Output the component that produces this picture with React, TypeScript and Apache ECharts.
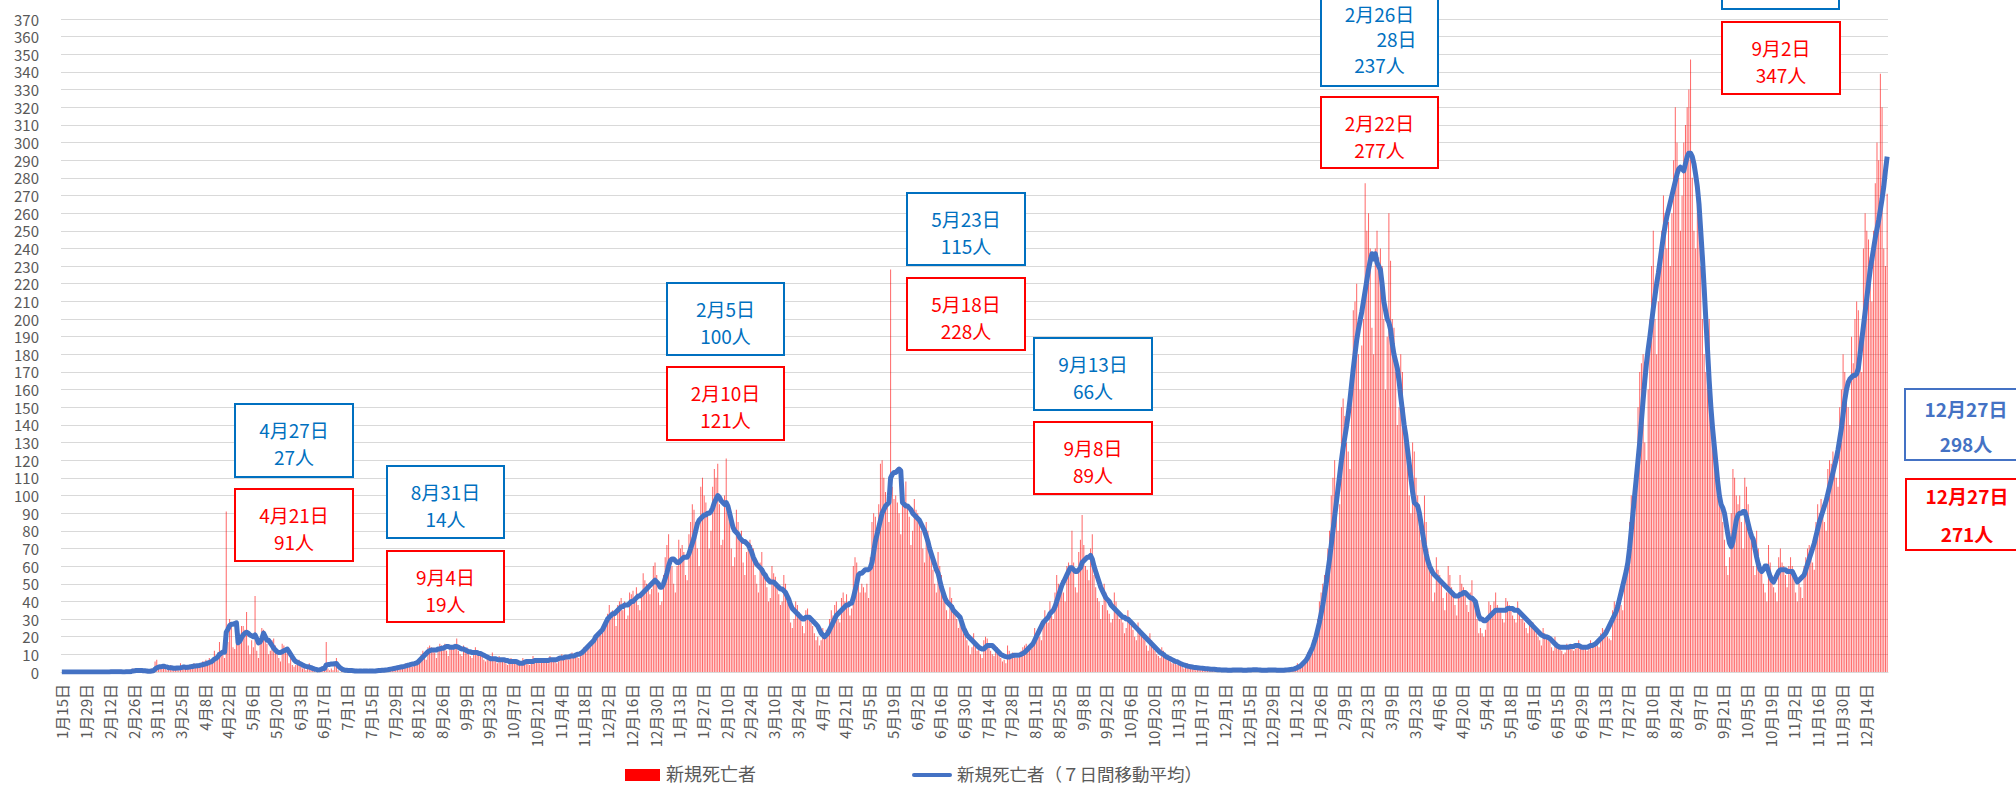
import React, { useEffect, useRef } from "react";
import * as echarts from "echarts";

// ---- categories: daily from 2020-01-15 to 2022-12-27 ----
const START_UTC = Date.UTC(2020, 0, 15);
const DAY_COUNT = 1078;
const categories: string[] = [];
for (let i = 0; i < DAY_COUNT; i++) {
  const d = new Date(START_UTC + i * 86400000);
  categories.push(`${d.getUTCMonth() + 1}月${d.getUTCDate()}日`);
}

// ---- daily new deaths ----
const deaths2020 = [
  0,0,0,0,0,0,0,0,0,0,0,0,0,0,0,0,0,
  0,0,0,0,0,0,0,0,0,0,0,0,1,0,0,0,0,0,0,0,0,1,0,0,1,2,1,1,0,
  1,0,1,0,1,0,0,2,1,6,7,3,2,2,3,2,1,3,4,2,1,2,3,1,5,3,3,2,3,2,4,
  3,5,4,4,3,5,6,6,7,5,8,6,7,12,9,11,17,12,10,8,91,17,30,26,14,13,20,26,22,26,
  26,24,34,15,10,18,14,43,12,8,19,25,24,22,16,10,12,18,19,15,10,8,6,16,15,13,11,5,8,4,3,
  4,6,7,3,2,3,1,2,5,2,1,1,0,1,2,3,1,3,17,2,1,2,1,4,8,1,0,1,0,1,
  1,1,0,1,0,1,1,0,0,1,1,0,0,1,0,0,1,1,1,0,1,2,1,1,1,2,2,3,2,3,3,
  3,2,2,4,5,4,3,4,3,4,6,7,6,10,12,9,7,14,15,14,13,11,8,12,16,15,14,16,12,9,13,
  15,13,16,19,12,10,9,15,13,14,10,9,8,11,14,12,10,11,9,7,6,8,9,9,11,8,7,5,9,8,
  8,6,5,4,7,8,7,6,5,4,4,6,8,6,7,5,4,5,9,7,7,6,5,6,8,7,7,5,9,8,6,
  6,5,6,9,10,8,9,8,7,9,11,10,9,10,8,10,12,14,13,15,14,14,17,19,18,20,22,21,24,25,
  26,33,38,30,35,32,26,38,40,42,35,40,30,32,45,44,46,42,48,38,35,45,56,52,50,48,44,47,60,62,55,
];
const deaths2021 = [
  45,38,40,55,65,72,78,65,60,50,45,60,75,70,72,68,55,52,78,85,95,92,85,70,60,105,110,100,96,90,70,
  80,105,115,110,118,95,72,75,100,121,90,85,70,60,65,92,85,78,80,62,55,68,70,75,72,70,55,50,
  45,62,68,58,55,48,40,42,60,56,54,50,44,38,40,55,50,45,40,28,25,30,40,38,34,30,26,22,35,36,32,
  28,26,22,18,20,15,18,25,20,24,22,30,35,32,38,40,30,28,42,45,40,44,38,32,36,60,65,62,50,45,
  50,48,45,50,42,65,85,90,88,80,95,118,120,110,102,96,85,228,105,98,100,96,90,78,102,95,108,94,88,72,80,
  98,92,90,85,80,70,62,85,80,72,65,58,50,45,68,60,55,48,40,35,30,48,42,38,35,30,25,28,30,22,
  20,18,15,10,14,22,17,12,14,10,8,18,20,19,15,12,10,9,12,14,10,8,6,7,5,15,12,10,11,9,8,
  8,10,12,14,15,16,12,14,13,18,25,22,24,20,18,26,35,30,28,40,32,30,45,55,50,48,52,45,40,60,62,
  58,80,62,48,45,68,75,89,72,60,58,52,70,78,55,48,42,40,30,38,50,45,35,33,28,30,45,40,33,30,
  30,28,22,25,35,30,26,24,20,18,28,25,22,20,18,15,12,22,18,15,12,10,9,8,14,12,9,8,7,6,5,
  5,7,4,4,6,3,2,4,5,3,2,4,2,1,3,2,3,2,1,2,1,2,2,1,2,1,1,1,2,1,
  1,2,1,0,1,2,1,1,2,1,1,0,1,1,2,1,1,2,1,2,1,1,0,1,1,1,2,1,2,1,0,
];
const deaths2022 = [
  0,1,1,2,1,1,2,2,2,1,2,3,5,4,4,4,5,8,11,10,14,18,15,22,30,40,45,50,55,48,70,
  80,100,110,120,100,80,95,150,155,145,130,125,115,160,205,210,220,180,160,185,200,277,250,260,240,195,180,240,
  250,235,240,230,200,160,190,260,233,200,195,170,140,150,180,170,150,140,120,100,90,130,125,110,100,90,75,80,100,85,70,
  60,55,40,45,65,58,55,50,42,35,45,60,55,48,44,38,32,42,55,50,48,45,38,34,45,52,40,38,30,22,
  25,22,20,24,30,40,38,35,40,45,38,36,34,30,28,42,40,38,35,32,30,28,40,35,30,30,28,25,22,30,28,
  28,24,22,20,18,15,25,22,20,18,17,14,12,20,17,15,14,12,10,11,16,15,16,14,12,13,14,18,15,13,
  14,13,12,15,18,16,15,17,15,14,22,25,24,22,20,19,18,35,40,38,40,42,38,35,55,60,70,85,100,95,90,
  110,150,170,175,180,130,120,160,200,230,250,200,180,210,230,250,270,260,240,255,230,260,290,320,300,280,250,270,300,310,320,
  330,347,280,250,240,280,270,230,200,180,170,190,200,160,140,120,110,100,110,95,85,75,60,55,65,90,115,110,100,95,
  100,85,70,110,105,95,80,75,60,55,80,70,60,58,50,45,40,72,62,55,48,45,40,65,70,62,60,55,48,60,65,
  60,55,45,40,50,48,42,60,65,70,72,68,62,58,85,95,90,98,92,85,80,115,120,118,125,120,110,105,150,160,
  180,170,165,150,140,190,175,200,210,205,190,170,240,260,250,245,235,210,250,277,300,290,339,320,240,230,271,
];

// ---- 7-day moving average ----
const avg2020 = [
  0,0,0,0,0,0,0,0,0,0,0,0,0,0,0,0,0,
  0,0,0,0,0,0,0,0,0,0,0,0,0.1,0.1,0.1,0.1,0.1,0.1,0.1,0,0,0.1,0.1,0.1,0.3,0.6,0.7,0.9,0.9,
  0.9,0.9,0.7,0.7,0.6,0.4,0.4,0.6,0.7,1.6,2.4,2.7,3,3.1,3.3,3,2.9,2.4,2.4,2.4,2.1,2.1,2.3,2.3,2.4,2.6,2.9,2.6,2.7,2.7,3,
  3.1,3.4,3.4,3.6,3.7,3.9,4.1,4.4,4.6,5,5.4,5.7,6.4,7.3,7.8,8.6,10,10.6,11.3,11.2,22.6,24.3,26.3,27,27.1,27.4,27.9,16.5,17.5,19.5,
  21,22,22.5,22,21,20.5,20,21,19,16.5,17,19,22,20,18,18,16.5,15,13.5,12.5,11.5,11,11,11.5,12,12.5,13,11.5,10,8.5,7,
  6,5.5,5,4.5,4,3.5,3.2,3,2.8,2.5,2,1.7,1.5,1.2,1.3,1.5,2,2,4,4.2,4.3,4.5,4.5,4.7,4.8,3.5,2.5,1.8,1.3,1,
  1,0.9,0.8,0.8,0.7,0.6,0.6,0.5,0.5,0.5,0.6,0.6,0.6,0.5,0.5,0.5,0.5,0.6,0.7,0.8,0.9,1,1,1.1,1.2,1.4,1.6,1.8,2,2.2,2.4,
  2.6,2.8,3,3.2,3.5,3.8,4,4.3,4.5,4.7,5,5.5,6.5,7.5,8.5,9.5,10.5,11.5,12,12.5,12.5,12.5,12.5,13,13,13.5,13.5,14,14.5,14.5,14,
  14,14,14.5,14.5,14,13.5,13,13,12.5,12,11.5,11.5,11,11,11,11,10.5,10.5,10,9.5,9,8.5,8,7.5,7.5,7.5,7.5,7,7,7,
  7,7,6.5,6.5,6,6,6,6,6,5.5,5,5,5,5.5,6,6,6,6,6,6.5,6.5,6.5,6.5,6.5,6.5,6.5,6.5,6.5,7,7,7,
  7,7,7.5,8,8,8,8.5,8.5,8.5,9,9,9,9.5,10,10,10.5,11,12,13,14,15,16,17,18,20,21,22,23,24,26,
  28,30,31,32,33,33,34,35,36,37,37,38,38,38,39,40,40,41,42,43,43,44,45,46,47,48,49,50,51,52,51,
];
const avg2021 = [
  50,48,48,50,53,56,60,63,64,64,63,62,62,63,64,65,65,65,67,70,73,76,80,84,86,87,88,89,89,90,90,
  91,93,96,98,100,99,97,96,95,96,94,90,86,82,80,79,78,76,75,74,74,73,72,70,68,65,63,61,
  60,59,58,56,55,53,52,51,51,51,50,49,48,47,47,46,45,43,41,38,36,35,34,33,32,31,30,30,31,31,31,
  30,29,28,27,26,24,22,21,20,21,22,24,26,28,30,32,33,34,35,36,37,38,38,39,39,42,46,50,55,56,
  56,57,58,58,58,59,62,68,74,78,82,86,90,92,94,95,96,110,112,113,113,114,115,114,96,95,94,94,93,92,90,
  89,88,87,86,84,82,80,77,74,70,67,64,61,58,56,52,48,45,42,40,39,38,37,35,34,33,32,31,28,25,
  23,21,20,19,18,17,16,15,14,13.5,13,13,14,15,15,15,15,14,13,12,11,10,9.5,9,8.7,8.5,8.5,9,9.3,9.5,9.5,
  9.5,9.6,10,10.5,11,12,13,14,15,16,18,20,22,24,26,28,29,30,31,33,34,35,37,40,43,46,49,51,53,55,57,
  59,59,58,57,57,58,59,62,63,64,65,65,66,64,60,57,54,51,48,46,44,42,41,40,38,37,36,35,34,33,
  32,31,31,30,30,29,28,27,26,25,24,23,22,21,20,19,18,17,16,15,14,13,12,11,10.5,10,9,8.5,8,7.5,7,
  6.5,6,5.8,5.3,4.8,4.4,4,3.7,3.4,3.2,3,2.8,2.6,2.5,2.4,2.3,2.2,2.1,2,1.9,1.8,1.7,1.6,1.5,1.5,1.4,1.3,1.3,1.2,1.2,
  1.1,1.1,1,1,1,1.1,1.1,1.2,1.2,1.2,1.1,1,1,1,1.1,1.2,1.2,1.3,1.3,1.3,1.2,1.1,1,1,1,1,1.1,1.1,1.2,1.2,1.1,
];
const avg2022 = [
  1,1,1,1,1,1.1,1.2,1.3,1.4,1.5,1.7,2,2.5,3,3.5,4.5,5.5,6.5,8,10,12,14,17,20,24,28,33,38,44,50,57,
  64,72,80,88,96,104,112,120,127,133,139,146,154,163,172,180,188,194,199,204,210,216,222,228,233,237,234,237,
  232,230,228,220,210,205,200,198,194,186,180,176,172,165,156,148,140,134,126,118,110,102,96,95,94,90,84,78,72,67,63,
  60,58,56,55,54,53,52,51,50,49,48,47,46,45,44,43,43,43,44,44,45,45,44,43,42,42,41,40,36,32,
  30,30,29,29,30,31,32,33,34,35,35,35,35,35,35,35,36,36,36,36,35,35,35,34,33,32,31,30,29,28,27,
  26,25,24,23,22,21,20.5,20,20,19.5,19,18,17,16,15,14.5,14,14,14,14,14,14,14.5,14.5,14.5,15,15,15,14.5,14,
  14,14,14,14.5,15,15,15.5,16,17,18,19,20,21,22,24,26,28,30,32,34,37,41,45,49,53,57,62,70,80,90,100,
  110,120,130,142,154,165,175,183,190,198,206,213,220,226,233,240,247,253,258,262,266,270,274,278,282,285,286,285,284,288,292,
  294,294,292,288,282,275,265,250,235,218,200,183,165,150,138,128,118,108,100,95,93,90,84,78,73,71,74,80,86,89,
  90,90,91,91,88,84,80,77,75,70,65,61,58,57,58,60,60,57,54,52,51,53,55,57,58,58,58,58,57,57,57,
  57,55,53,51,52,53,54,55,58,61,64,67,70,73,77,81,85,88,91,94,97,101,105,109,113,117,121,126,132,138,
  146,154,160,164,166,167,168,168,169,172,180,188,196,204,212,220,228,234,240,246,251,256,262,268,275,284,292,
];

const dailyDeaths = [...deaths2020, ...deaths2021, ...deaths2022];
const movingAvg = [...avg2020, ...avg2021, ...avg2022];

const yMax = 370;
const yStep = 10;

const seriesNames = ["新規死亡者", "新規死亡者（７日間移動平均）"];

// ---- annotation texts ----
type Note = { lines: string[]; kind: "avg" | "day" | "avgLast" | "dayLast" };
const notes: Note[] = [
  { lines: ["4月27日", "27人"], kind: "avg" },
  { lines: ["4月21日", "91人"], kind: "day" },
  { lines: ["8月31日", "14人"], kind: "avg" },
  { lines: ["9月4日", "19人"], kind: "day" },
  { lines: ["2月5日", "100人"], kind: "avg" },
  { lines: ["2月10日", "121人"], kind: "day" },
  { lines: ["5月23日", "115人"], kind: "avg" },
  { lines: ["5月18日", "228人"], kind: "day" },
  { lines: ["9月13日", "66人"], kind: "avg" },
  { lines: ["9月8日", "89人"], kind: "day" },
  { lines: ["2月26日", "28日", "237人"], kind: "avg" },
  { lines: ["2月22日", "277人"], kind: "day" },
  { lines: [], kind: "avg" },
  { lines: ["9月2日", "347人"], kind: "day" },
  { lines: ["12月27日", "298人"], kind: "avgLast" },
  { lines: ["12月27日", "271人"], kind: "dayLast" },
];
// box layout [x, y, w, h]
const noteBoxes: number[][] = [
  [235, 404, 118, 73], [235, 489, 118, 72],
  [387, 466, 117, 72], [387, 551, 117, 71],
  [667, 283, 117, 72], [667, 367, 117, 73],
  [907, 193, 118, 72], [907, 278, 118, 72],
  [1034, 338, 118, 72], [1034, 422, 118, 72],
  [1321, -12, 117, 98], [1321, 97, 117, 71],
  [1722, -70, 117, 79], [1722, 22, 118, 72],
  [1905, 389, 122, 71], [1906, 479, 122, 71],
];

const FONT = '"Noto Sans CJK JP", "Noto Sans", sans-serif';

function buildGraphics() {
  const els: any[] = [];
  notes.forEach((n, i) => {
    const [x, y, w, h] = noteBoxes[i];
    const stroke =
      n.kind === "avg" ? "#0070C0" : n.kind === "avgLast" ? "#4472C4" : "#FF0000";
    els.push({
      type: "rect",
      z: 100,
      shape: { x, y, width: w, height: h },
      style: { fill: "#ffffff", stroke, lineWidth: 2 },
    });
    const cx = x + w / 2;
    const last = n.kind === "avgLast" || n.kind === "dayLast";
    let ys: number[];
    if (n.lines.length === 3) ys = [y + 25, y + 50, y + 76];
    else if (n.kind === "avgLast") ys = [y + 19, y + 54];
    else if (n.kind === "dayLast") ys = [y + 16, y + 54];
    else ys = [y + 25, y + 52];
    n.lines.forEach((t, k) => {
      let tx = cx;
      let align = "center";
      if (n.lines.length === 3 && k === 1) {
        tx = cx + 37;
        align = "right";
      }
      els.push({
        type: "text",
        z: 101,
        x: tx,
        y: ys[k],
        style: {
          text: t,
          fill: stroke,
          font: `${last ? "bold " : ""}19px ${FONT}`,
          textAlign: align,
          textVerticalAlign: "middle",
        },
      });
    });
  });
  // legend
  els.push({
    type: "rect",
    z: 100,
    shape: { x: 625, y: 769, width: 35, height: 12 },
    style: { fill: "#FF0000" },
  });
  els.push({
    type: "text",
    z: 100,
    x: 666,
    y: 773,
    style: {
      text: seriesNames[0],
      fill: "#595959",
      font: `18px ${FONT}`,
      textAlign: "left",
      textVerticalAlign: "middle",
    },
  });
  els.push({
    type: "line",
    z: 100,
    shape: { x1: 914, y1: 775, x2: 950, y2: 775 },
    style: { stroke: "#4472C4", lineWidth: 4, lineCap: "round" },
  });
  els.push({
    type: "text",
    z: 100,
    x: 957,
    y: 773,
    style: {
      text: seriesNames[1],
      fill: "#595959",
      font: `17.5px ${FONT}`,
      textAlign: "left",
      textVerticalAlign: "middle",
    },
  });
  return els;
}

export default function App() {
  const ref = useRef<HTMLDivElement>(null);
  useEffect(() => {
    if (!ref.current) return;
    const chart = echarts.init(ref.current, undefined, {
      renderer: "svg",
      width: 2016,
      height: 786,
    });
    chart.setOption({
      animation: false,
      backgroundColor: "#ffffff",
      textStyle: { fontFamily: FONT },
      grid: { left: 61, right: 128, top: 19, bottom: 114 },
      xAxis: {
        type: "category",
        data: categories,
        boundaryGap: true,
        axisLine: { show: true, lineStyle: { color: "#D9D9D9", width: 1 } },
        axisTick: { show: false },
        axisLabel: {
          interval: 13,
          rotate: 90,
          margin: 12,
          color: "#595959",
          fontSize: 15,
          fontFamily: FONT,
        },
      },
      yAxis: {
        type: "value",
        min: 0,
        max: yMax,
        interval: yStep,
        axisLine: { show: false },
        axisTick: { show: false },
        axisLabel: { color: "#595959", fontSize: 15, margin: 22, fontFamily: FONT },
        splitLine: { lineStyle: { color: "#D9D9D9", width: 1 } },
      },
      series: [
        {
          name: seriesNames[0],
          type: "bar",
          data: dailyDeaths,
          barWidth: 0.9,
          itemStyle: { color: "#FF0000", opacity: 0.6 },
          z: 2,
        },
        {
          name: seriesNames[1],
          type: "line",
          data: movingAvg,
          symbol: "none",
          showSymbol: false,
          lineStyle: { color: "#4472C4", width: 5, join: "round" },
          z: 3,
        },
      ],
      graphic: buildGraphics(),
    });
    return () => chart.dispose();
  }, []);
  return (
    <div
      ref={ref}
      style={{ position: "fixed", left: 0, top: 0, width: 2016, height: 786, background: "#fff" }}
    />
  );
}
